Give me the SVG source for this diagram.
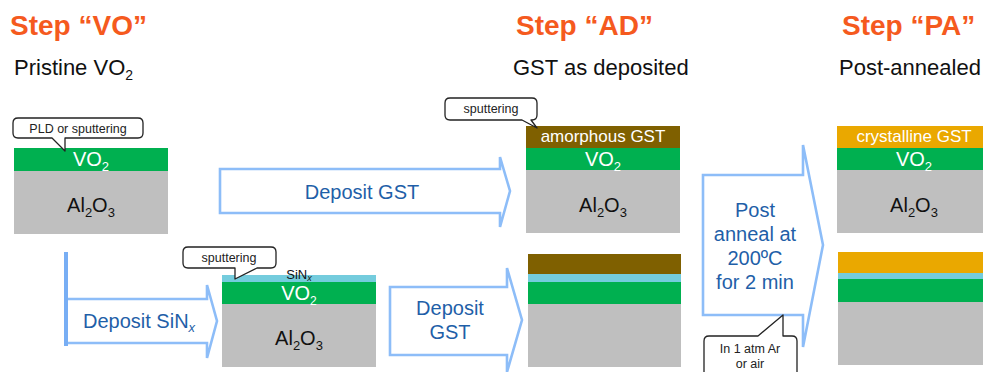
<svg xmlns="http://www.w3.org/2000/svg" width="983" height="372" viewBox="0 0 983 372">
  <style>
    text { font-family: "Liberation Sans", Arial, sans-serif; }
    .title { font-size: 28px; font-weight: bold; fill: #F55A1E; }
    .sub { font-size: 22px; fill: #111; }
    .vo { font-size: 20px; fill: #fff; text-anchor: middle; }
    .al { font-size: 20px; fill: #111; text-anchor: middle; }
    .gst { font-size: 17px; fill: #fff; text-anchor: middle; }
    .step { font-size: 20px; fill: #1F5FA8; text-anchor: middle; }
    .step-left { font-size: 20px; fill: #1F5FA8; text-anchor: start; }
    .note { font-size: 12.5px; fill: #222; text-anchor: middle; }
    .callout { fill: #fff; stroke: #222; stroke-width: 1.3; stroke-linejoin: round; }
    .arrow { fill: #fff; stroke: #8DBDF8; stroke-width: 2.6; stroke-linejoin: miter; }
    .green { fill: #00B050; }
    .gray { fill: #BFBFBF; }
    .brown { fill: #7F6000; }
    .orange { fill: #EAA800; }
    .sin { fill: #74CCDD; }
  </style>

  <!-- headings -->
  <g id="headings">
    <text class="title" x="10" y="35">Step “VO”</text>
    <text class="sub" x="14" y="75">Pristine VO<tspan font-size="14" dy="5">2</tspan></text>
    <text class="title" x="516" y="35">Step “AD”</text>
    <text class="sub" x="513" y="75">GST as deposited</text>
    <text class="title" x="842" y="35">Step “PA”</text>
    <text class="sub" x="839" y="75">Post-annealed</text>
  </g>

  <!-- process arrows -->
  <g id="connectors">
    <polygon class="arrow" points="220,169 500,169 500,157 510,191 500,227 500,213 220,213"/>
    <text class="step" x="362" y="199">Deposit GST</text>

    <polygon class="arrow" points="66,299 207,299 207,285 217,321 207,358 207,343 66,343"/>
    <line x1="66" y1="252" x2="66" y2="346" stroke="#78AEF4" stroke-width="4"/>
    <text class="step-left" x="83" y="328">Deposit SiN<tspan font-size="13" font-style="italic" dy="4">x</tspan></text>

    <polygon class="arrow" points="390,287 507,287 507,268 522,320 507,372 507,355 390,355"/>
    <text class="step" x="450" y="315">Deposit</text>
    <text class="step" x="450" y="339">GST</text>

    <polygon class="arrow" points="703,175 803,175 803,145 823,245 803,347 803,315 703,315"/>
    <text class="step" x="755" y="217">Post</text>
    <text class="step" x="755" y="241">anneal at</text>
    <text class="step" x="755" y="265">200ºC</text>
    <text class="step" x="755" y="289">for 2 min</text>
  </g>

  <!-- pristine VO2 on sapphire -->
  <g id="stack-vo">
    <rect class="green" x="14" y="148" width="154" height="23"/>
    <rect class="gray" x="14" y="171" width="154" height="63"/>
    <text class="vo" x="91" y="166">VO<tspan font-size="13" dy="5">2</tspan></text>
    <text class="al" x="91" y="212">Al<tspan font-size="13" dy="5">2</tspan><tspan dy="-5">O</tspan><tspan font-size="13" dy="5">3</tspan></text>
  </g>
  <g id="callout-pld">
    <path class="callout" d="M18,118 H138 Q143,118 143,123 V133 Q143,138 138,138 H65 L65,151 L52,138 H18 Q13,138 13,133 V123 Q13,118 18,118 Z"/>
    <text class="note" x="78" y="133">PLD or sputtering</text>
  </g>

  <!-- SiNx capped VO2 -->
  <g id="stack-sin">
    <rect class="sin" x="222" y="275" width="154" height="7"/>
    <rect class="green" x="222" y="282" width="154" height="22"/>
    <rect class="gray" x="222" y="304" width="154" height="63"/>
    <text x="299" y="279" font-size="13" fill="#111" text-anchor="middle">SiN<tspan font-size="9" font-style="italic" dy="2">x</tspan></text>
    <text class="vo" x="299" y="300" font-size="18">VO<tspan font-size="12" dy="5">2</tspan></text>
    <text class="al" x="299" y="345">Al<tspan font-size="13" dy="5">2</tspan><tspan dy="-5">O</tspan><tspan font-size="13" dy="5">3</tspan></text>
  </g>
  <g id="callout-sin">
    <path class="callout" d="M188,247 H271 Q276,247 276,252 V263 Q276,268 271,268 H257 L235,279 L235,268 H188 Q183,268 183,263 V252 Q183,247 188,247 Z"/>
    <text class="note" x="229" y="262">sputtering</text>
  </g>

  <!-- as-deposited GST -->
  <g id="stack-ad">
    <rect class="brown" x="526" y="126" width="154" height="22"/>
    <rect class="green" x="526" y="148" width="154" height="22"/>
    <rect class="gray" x="526" y="170" width="154" height="63"/>
    <text class="gst" x="603" y="142">amorphous GST</text>
    <text class="vo" x="603" y="166">VO<tspan font-size="13" dy="5">2</tspan></text>
    <text class="al" x="603" y="212">Al<tspan font-size="13" dy="5">2</tspan><tspan dy="-5">O</tspan><tspan font-size="13" dy="5">3</tspan></text>
  </g>
  <g id="callout-gst">
    <path class="callout" d="M450,98 H532 Q537,98 537,103 V115 Q537,120 532,120 H531 L537,128 L522,120 H450 Q445,120 445,115 V103 Q445,98 450,98 Z"/>
    <text class="note" x="491" y="113">sputtering</text>
  </g>
  <g id="stack-ad-sin">
    <rect class="brown" x="528" y="254" width="153" height="20"/>
    <rect class="sin" x="528" y="274" width="153" height="8"/>
    <rect class="green" x="528" y="282" width="153" height="22"/>
    <rect class="gray" x="528" y="304" width="153" height="63"/>
  </g>

  <!-- post-annealed GST -->
  <g id="stack-pa">
    <rect class="orange" x="837" y="126" width="154" height="22"/>
    <rect class="green" x="837" y="148" width="154" height="22"/>
    <rect class="gray" x="837" y="170" width="154" height="63"/>
    <text class="gst" x="914" y="142">crystalline GST</text>
    <text class="vo" x="914" y="166">VO<tspan font-size="13" dy="5">2</tspan></text>
    <text class="al" x="914" y="212">Al<tspan font-size="13" dy="5">2</tspan><tspan dy="-5">O</tspan><tspan font-size="13" dy="5">3</tspan></text>
  </g>
  <g id="stack-pa-sin">
    <rect class="orange" x="838" y="252" width="154" height="21"/>
    <rect class="sin" x="838" y="273" width="154" height="6"/>
    <rect class="green" x="838" y="279" width="154" height="23"/>
    <rect class="gray" x="838" y="302" width="154" height="63"/>
  </g>

  <g id="callout-anneal">
    <path class="callout" d="M709,336 H758 L783,315 L783,336 H792 Q797,336 797,341 V380 Q797,385 792,385 H709 Q704,385 704,380 V341 Q704,336 709,336 Z"/>
    <text class="note" x="750" y="353">In 1 atm Ar</text>
    <text class="note" x="750" y="368">or air</text>
  </g>
</svg>
